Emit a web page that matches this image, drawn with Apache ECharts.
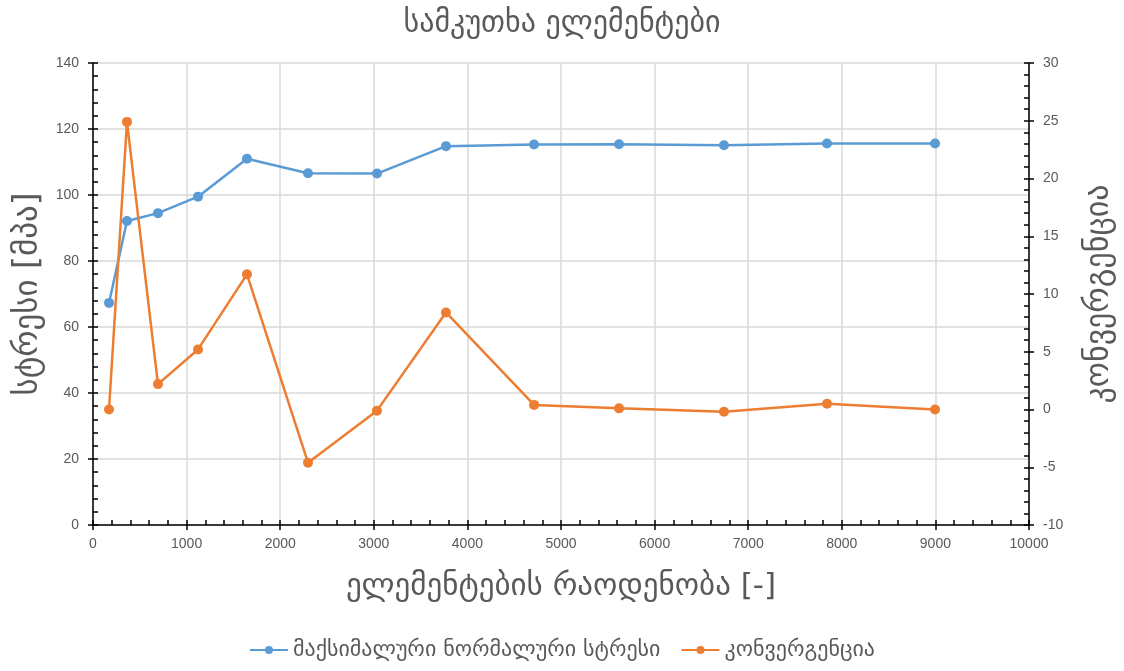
<!DOCTYPE html>
<html>
<head>
<meta charset="utf-8">
<script src="https://cdn.jsdelivr.net/npm/echarts@6/dist/echarts.min.js"></script>
<style>
  html, body { margin: 0; padding: 0; background: #fff; }
  #chart { width: 1124px; height: 671px; }
</style>
</head>
<body>
<div id="chart"></div>
<script>
// element counts along the x axis
const elementCounts = [171, 363, 694, 1122, 1645, 2297, 3034, 3771, 4712, 5620, 6741, 7842, 8996];
// maximum normal stress [MPa]
const maxStress = [67.3, 92.1, 94.5, 99.5, 111.0, 106.6, 106.5, 114.8, 115.3, 115.4, 115.1, 115.6, 115.6];
// convergence [%]
const convergence = [0.0, 24.9, 2.2, 5.2, 11.7, -4.6, -0.1, 8.4, 0.4, 0.1, -0.2, 0.5, 0.0];

const titleText = 'სამკუთხა ელემენტები';
const xName = 'ელემენტების რაოდენობა [-]';
const yLeftName = 'სტრესი [მპა]';
const yRightName = 'კონვერგენცია';
const stressName = 'მაქსიმალური ნორმალური სტრესი';
const convName = 'კონვერგენცია';

const FONT = '"DejaVu Sans", "Noto Sans", sans-serif';
const NUMFONT = '"Liberation Sans", "DejaVu Sans", sans-serif';
const TXT = '#595959';
const GRIDC = '#d9d9d9';
const BLUE = '#5b9bd5';
const ORANGE = '#ed7d31';

const pair = (xs, ys) => xs.map((x, i) => [x, ys[i]]);

const axisLine = { show: true, onZero: false, lineStyle: { color: '#000', width: 1.5 } };
const tickStyle = { color: '#000', width: 1.5 };
const numLabel = { fontFamily: NUMFONT, fontSize: 14, color: TXT, formatter: v => String(v) };

// companion axis that only draws the outer half of the major ticks
const outerTicks = (extra) => Object.assign({
  type: 'value',
  axisLine: { show: false, onZero: false },
  axisTick: { show: true, inside: false, length: 5, lineStyle: tickStyle },
  axisLabel: { show: false },
  splitLine: { show: false }
}, extra);

const chart = echarts.init(document.getElementById('chart'), null, { renderer: 'canvas' });
chart.setOption({
  backgroundColor: '#fff',
  animation: false,
  title: {
    text: titleText,
    left: 'center',
    top: 4,
    textStyle: { fontFamily: FONT, fontSize: 30, fontWeight: 'normal', color: TXT }
  },
  legend: {
    bottom: 5,
    left: 'center',
    itemGap: 20,
    itemWidth: 38,
    itemHeight: 10,
    textStyle: { fontFamily: FONT, fontSize: 22, color: TXT },
    data: [stressName, convName]
  },
  grid: { left: 93, right: 95, top: 63, bottom: 146, containLabel: false },
  xAxis: [
    {
      type: 'value', min: 0, max: 10000, interval: 1000,
      name: xName, nameLocation: 'middle', nameGap: 46,
      nameTextStyle: { fontFamily: FONT, fontSize: 31, color: TXT },
      axisLine: axisLine,
      axisTick: { show: true, inside: true, length: 5, lineStyle: tickStyle },
      minorTick: { show: true, splitNumber: 5, length: 5, lineStyle: tickStyle },
      axisLabel: Object.assign({ margin: 12 }, numLabel),
      splitLine: { show: true, lineStyle: { color: GRIDC, width: 1.5 } }
    },
    outerTicks({ min: 0, max: 10000, interval: 1000, position: 'bottom' })
  ],
  yAxis: [
    {
      type: 'value', min: 0, max: 140, interval: 20, position: 'left',
      name: yLeftName, nameLocation: 'middle', nameGap: 44, nameRotate: 90,
      nameTextStyle: { fontFamily: FONT, fontSize: 33, color: TXT },
      axisLine: axisLine,
      axisTick: { show: true, inside: true, length: 5, lineStyle: tickStyle },
      minorTick: { show: true, splitNumber: 5, length: 5, lineStyle: tickStyle },
      axisLabel: Object.assign({ margin: 14 }, numLabel),
      splitLine: { show: true, lineStyle: { color: GRIDC, width: 1.5 } }
    },
    {
      type: 'value', min: -10, max: 30, interval: 5, position: 'right',
      name: yRightName, nameLocation: 'middle', nameGap: 55, nameRotate: 90,
      nameTextStyle: { fontFamily: FONT, fontSize: 32, color: TXT },
      axisLine: axisLine,
      axisTick: { show: true, inside: true, length: 5, lineStyle: tickStyle },
      minorTick: { show: true, splitNumber: 5, length: 5, lineStyle: tickStyle },
      axisLabel: Object.assign({ margin: 14 }, numLabel),
      splitLine: { show: false }
    },
    outerTicks({ min: 0, max: 140, interval: 20, position: 'left' }),
    outerTicks({ min: -10, max: 30, interval: 5, position: 'right' })
  ],
  series: [
    {
      name: stressName, type: 'line', xAxisIndex: 0, yAxisIndex: 0,
      data: pair(elementCounts, maxStress),
      symbol: 'circle', symbolSize: 10,
      lineStyle: { color: BLUE, width: 2.5 },
      itemStyle: { color: BLUE },
      z: 3
    },
    {
      name: convName, type: 'line', xAxisIndex: 0, yAxisIndex: 1,
      data: pair(elementCounts, convergence),
      symbol: 'circle', symbolSize: 10,
      lineStyle: { color: ORANGE, width: 2.5 },
      itemStyle: { color: ORANGE },
      z: 4
    }
  ]
});
</script>
</body>
</html>
